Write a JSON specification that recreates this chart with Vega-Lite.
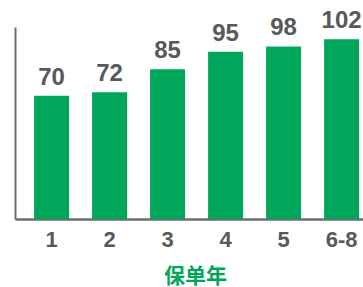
{
  "$schema": "https://vega.github.io/schema/vega-lite/v6.json",
  "width": 348,
  "height": 192,
  "autosize": {"type": "none"},
  "padding": {"left": 15, "top": 27, "right": 0, "bottom": 68},
  "background": "white",
  "config": {"view": {"stroke": null}},
  "data": {"values": [
    {"year": "1", "value": 70},
    {"year": "2", "value": 72},
    {"year": "3", "value": 85},
    {"year": "4", "value": 95},
    {"year": "5", "value": 98},
    {"year": "6-8", "value": 102}
  ]},
  "encoding": {
    "x": {
      "field": "year", "type": "nominal", "sort": null,
      "scale": {"paddingInner": 0.397, "paddingOuter": 0.198, "align": 0.83},
      "axis": {
        "title": "保单年", "titleFont": "Noto Sans CJK SC", "titleFontSize": 21, "titleFontWeight": "bold",
        "titleColor": "#00A65A", "titleX": 180, "titleY": 57, "titleBaseline": "middle",
        "labelAngle": 0, "labelFont": "Liberation Sans", "labelFontSize": 22, "labelFontWeight": "bold",
        "labelColor": "#58595B", "labelPadding": 10,
        "ticks": false, "domainColor": "#6D6E71", "domainWidth": 2.5
      }
    },
    "y": {
      "field": "value", "type": "quantitative",
      "scale": {"domain": [0, 109], "nice": false},
      "axis": {"title": null, "labels": false, "ticks": false, "grid": false, "domainColor": "#6D6E71", "domainWidth": 2}
    }
  },
  "layer": [
    {"mark": {"type": "bar", "color": "#00A65A"}},
    {"mark": {"type": "text", "baseline": "alphabetic", "dy": -11, "font": "Liberation Sans", "fontSize": 24, "fontWeight": "bold", "color": "#58595B"},
     "encoding": {"text": {"field": "value", "type": "quantitative"}}}
  ]
}
